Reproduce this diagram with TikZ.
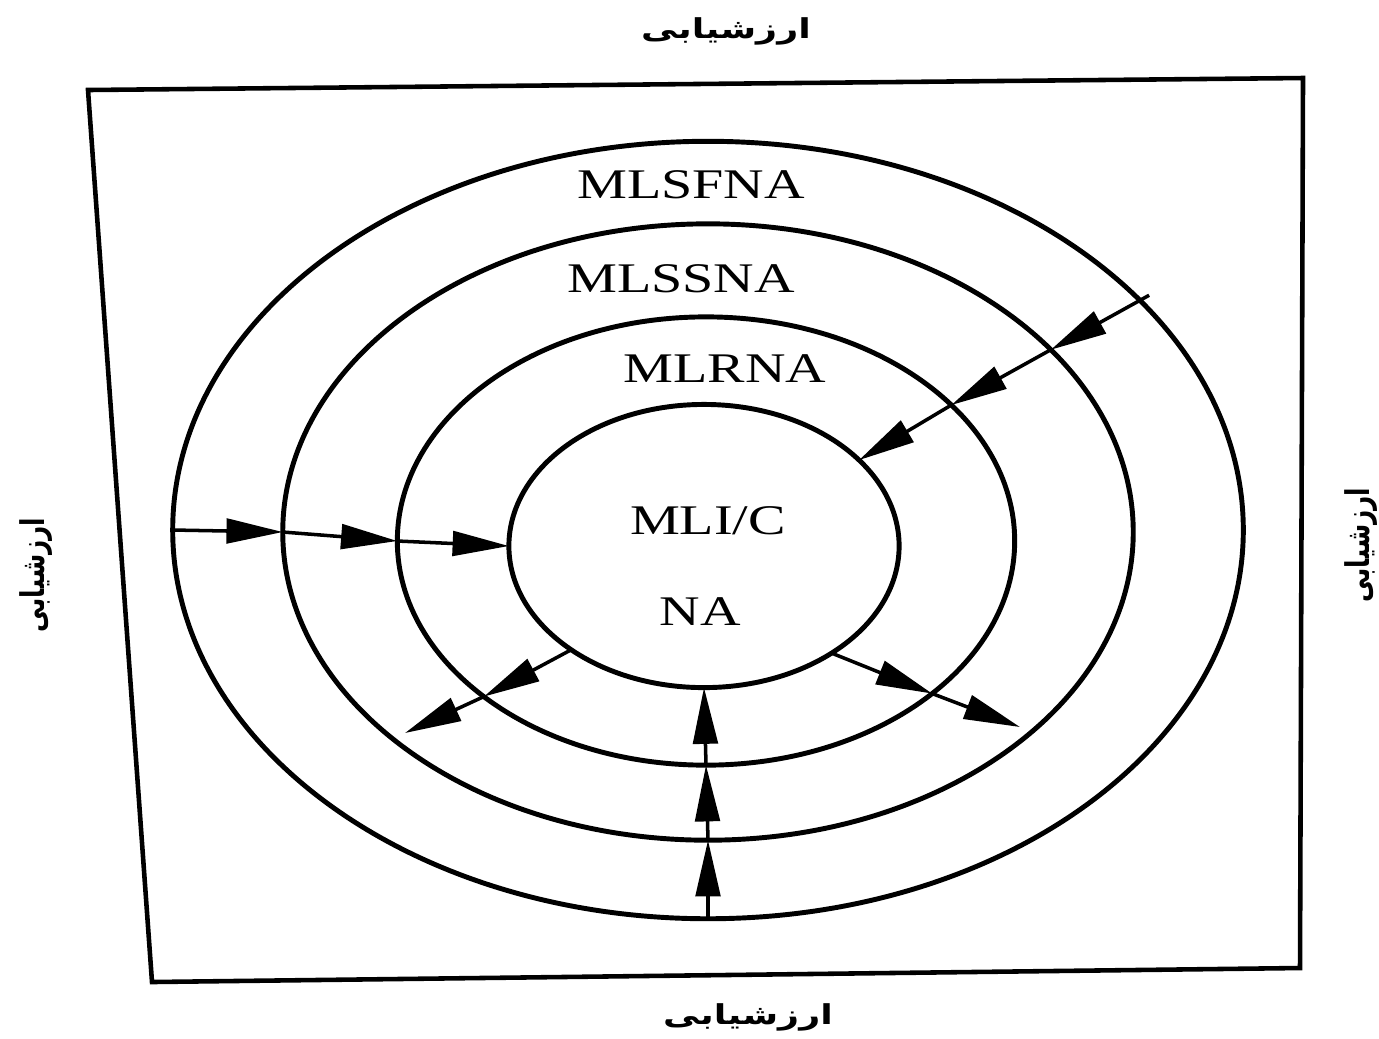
\documentclass[tikz,border=0pt]{standalone}
\usepackage{fontspec}
\setmainfont{Liberation Serif}
\newfontfamily\arabicfont[Script=Arabic]{DejaVu Sans}
\TeXXeTstate=1
\usepackage{tikz}
\usetikzlibrary{shapes,arrows.meta}

\begin{document}
\begin{tikzpicture}[x=0.01cm, y=-0.01cm,
    ring/.style={draw, ellipse, line width=1.4pt, inner sep=0pt, outer sep=0pt},
    level/.style={anchor=base, inner sep=0pt, xscale=1.33, font=\fontsize{12}{14}\selectfont},
    farsi/.style={inner sep=0pt, xscale=1.33, font=\fontsize{7.8}{9}\selectfont\arabicfont\bfseries},
    sidefarsi/.style={farsi, rotate=90, font=\fontsize{7}{8}\selectfont\arabicfont\bfseries},
    flow/.style={-{Triangle[length=16pt, width=7pt]}, line width=1pt}]
    \useasboundingbox (0, 0) rectangle (1379, 1038);
    % frame
    \coordinate (nw) at (88, 90);
    \coordinate (ne) at (1303, 78);
    \coordinate (se) at (1300, 968);
    \coordinate (sw) at (152, 982);
    \draw[line width=1.3pt] (nw) -- (ne) -- (se) -- (sw) -- cycle;
    \node[farsi] (evaltop) at (726, 31) {\beginR ارزشیابی\endR};
    \node[farsi] (evalbottom) at (748, 1017) {\beginR ارزشیابی\endR};
    \node[sidefarsi] (evalleft) at (36, 575) {\beginR ارزشیابی\endR};
    \node[sidefarsi] (evalright) at (1361, 545) {\beginR ارزشیابی\endR};
    % rings
    \node[ring, minimum width=10.70cm, minimum height=7.77cm] (mlsfna) at (708, 530) {};
    \node[ring, minimum width=8.50cm, minimum height=6.16cm] (mlssna) at (708, 532) {};
    \node[ring, minimum width=6.17cm, minimum height=4.48cm] (mlrna) at (706, 541) {};
    \node[ring, minimum width=3.90cm, minimum height=2.83cm] (mlic) at (704, 546) {};
    \node[level] (sfnatext) at (691, 198) {MLSFNA};
    \node[level] (ssnatext) at (681, 292) {MLSSNA};
    \node[level] (rnatext) at (725, 382) {MLRNA};
    \node[level] (ictext) at (708, 534) {MLI/C};
    \node[level] (natext) at (700, 625) {NA};
    \coordinate (outleft) at (405, 733);
    \coordinate (outright) at (1020, 727);
    % arrows
    \draw[flow] (mlsfna.west) -- (mlssna.west);
    \draw[flow] (mlssna.west) -- (mlrna.west);
    \draw[flow] (mlrna.west) -- (mlic.west);
    \draw[flow, shorten <=-3pt] (mlsfna.28) -- (mlssna.28);
    \draw[flow] (mlssna.28) -- (mlrna.29);
    \draw[flow] (mlrna.29) -- (mlic.29);
    \draw[flow] (mlsfna.south) -- (mlssna.south);
    \draw[flow] (mlssna.south) -- (mlrna.south);
    \draw[flow] (mlrna.south) -- (mlic.south);
    \draw[flow] (mlic.218) -- (mlrna.215);
    \draw[flow] (mlrna.215) -- (outleft);
    \draw[flow] (mlic.320) -- (mlrna.326);
    \draw[flow] (mlrna.326) -- (outright);
\end{tikzpicture}
\end{document}
